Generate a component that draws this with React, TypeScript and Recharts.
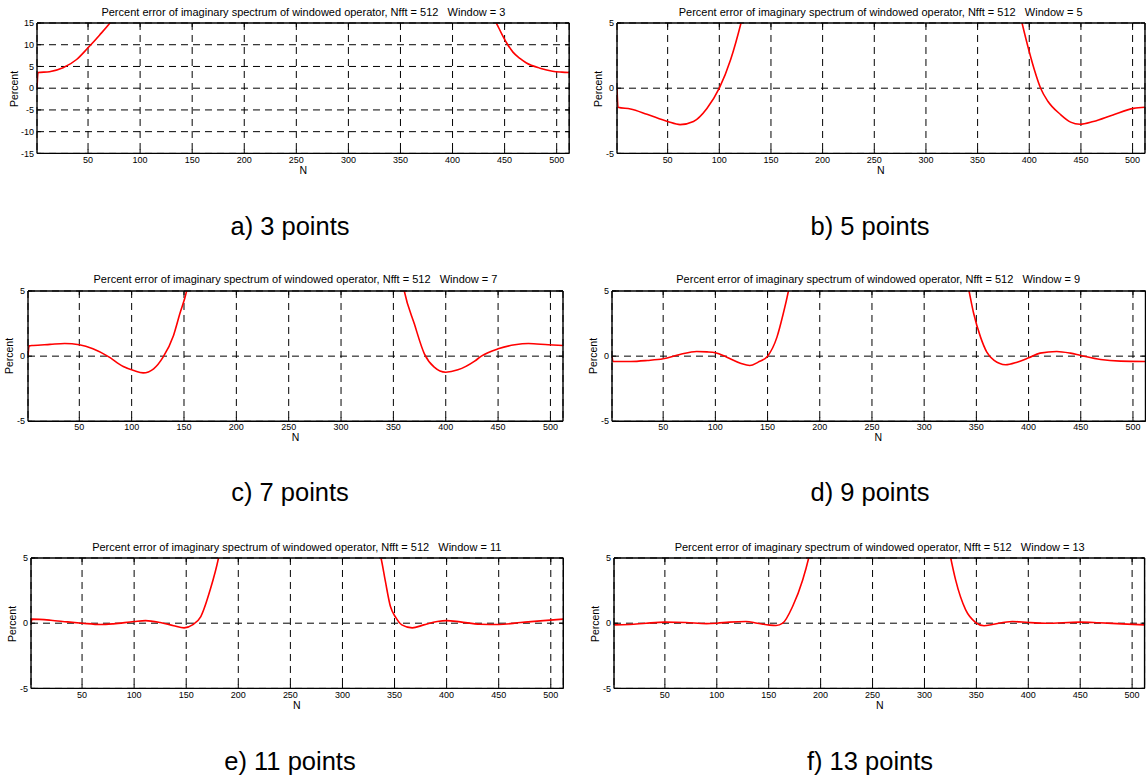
import React from 'react';
import { LineChart, Line, XAxis, YAxis, CartesianGrid } from 'recharts';

const FONT = '"Liberation Sans", Arial, Helvetica, sans-serif';

const xTicks = [50, 100, 150, 200, 250, 300, 350, 400, 450, 500];
const yTicksWide = [-15, -10, -5, 0, 5, 10, 15];
const yTicksNarrow = [-5, 0, 5];

// Window = 3
const w3LeftN = [1, 2, 13, 26, 39, 50, 61, 71, 76];
const w3LeftV = [0, 3.6, 3.8, 4.7, 6.6, 9.3, 12.2, 15, 16.6];
const w3RightN = [437, 442, 447, 452, 458, 465, 471, 484, 496, 505, 512];
const w3RightV = [16.8, 15, 12.6, 10.4, 8.3, 6.8, 5.8, 4.6, 3.9, 3.7, 3.6];

// Window = 5
const w5LeftN = [1, 2, 14, 30, 50, 62, 75, 88, 100, 111, 121, 125];
const w5LeftV = [0, -1.46, -1.6, -2.0, -2.55, -2.79, -2.55, -1.55, 0, 2.2, 5.0, 6.3];
const w5RightN = [390, 393, 400, 405, 411, 418, 430, 440, 449, 462, 481, 501, 512];
const w5RightV = [6.0, 5.0, 2.8, 1.4, 0, -1.0, -2.0, -2.6, -2.77, -2.56, -2.05, -1.55, -1.46];

// Window = 7
const w7LeftN = [1, 2, 6, 22, 36, 50, 63, 77, 92, 102, 111, 121, 130, 140, 146, 152.5, 155];
const w7LeftV = [0, 0.79, 0.82, 0.9, 0.97, 0.87, 0.56, 0, -0.79, -1.1, -1.28, -0.97, -0.08, 1.59, 3.25, 5.0, 6.0];
const w7RightN = [358, 360.4, 370, 379.6, 389, 400, 411.6, 427.6, 434, 450, 466, 479, 498, 512];
const w7RightV = [6.0, 5.0, 2.48, 0.18, -0.84, -1.23, -1.05, -0.38, 0, 0.56, 0.87, 0.97, 0.87, 0.82];

// Window = 9
const w9LeftN = [1, 2, 19, 35, 50, 66, 82, 92, 100, 111, 124, 133, 141, 150, 159, 165, 170, 172];
const w9LeftV = [0, -0.41, -0.41, -0.33, -0.2, 0.13, 0.36, 0.33, 0.26, -0.08, -0.54, -0.72, -0.46, 0, 1.46, 3.25, 5.0, 5.8];
const w9RightN = [341, 343, 347.5, 354, 360, 367, 378, 389, 400, 411, 427, 440, 450, 469, 488, 512];
const w9RightV = [5.8, 5.0, 3.25, 1.46, 0.31, -0.33, -0.66, -0.46, -0.13, 0.23, 0.36, 0.23, 0.05, -0.26, -0.38, -0.41];

// Window = 11
const w11LeftN = [1, 2, 20, 36, 50, 68, 80, 100, 111, 125, 138, 148, 156, 164, 173, 181, 183];
const w11LeftV = [0, 0.31, 0.23, 0.1, 0, -0.1, -0.05, 0.13, 0.2, 0.05, -0.2, -0.36, -0.13, 0.51, 2.56, 5.0, 5.8];
const w11RightN = [334, 337, 341, 346, 351, 357, 367, 378, 391, 400, 413, 432, 450, 471, 493, 512];
const w11RightV = [5.8, 5.0, 3.3, 1.3, 0.46, -0.13, -0.36, -0.13, 0.13, 0.2, 0.1, -0.08, -0.1, 0.05, 0.2, 0.31];

// Window = 13
const w13LeftN = [1, 2, 16, 32, 50, 70, 90, 100, 112, 128, 139, 151, 157, 163.5, 173, 182.7, 188.5, 191];
const w13LeftV = [0, -0.13, -0.1, 0, 0.08, 0.05, -0.03, 0, 0.08, 0.13, 0, -0.15, -0.18, 0, 1.28, 3.32, 5.0, 5.9];
const w13RightN = [323, 325.3, 330, 339.7, 349.4, 357.4, 365.4, 384.6, 400, 416.7, 450, 468, 490, 512];
const w13RightV = [5.9, 5.0, 3.32, 1.02, 0.05, -0.2, -0.1, 0.13, 0.05, 0, 0.08, 0.03, -0.05, -0.13];

type Pt = { n: number; v: number | null };

function build(ln: number[], lv: number[], rn: number[], rv: number[]): Pt[] {
  const left = ln.map((n, i) => ({ n, v: lv[i] }));
  const right = rn.map((n, i) => ({ n, v: rv[i] }));
  return [...left, { n: 257, v: null }, ...right];
}

const BottomTick = (props: any) => {
  const { x, y, payload } = props;
  return (
    <g>
      <line x1={x} x2={x} y1={y} y2={y - 4} stroke="#000" strokeWidth={1} />
      <text x={x} y={y + 6} dy="0.35em" textAnchor="middle" fontSize={9} fontFamily={FONT} fill="#000">
        {payload.value}
      </text>
    </g>
  );
};

const TopTick = (props: any) => {
  const { x, y } = props;
  return <line x1={x} x2={x} y1={y} y2={y + 4} stroke="#000" strokeWidth={1} />;
};

const LeftTick = (props: any) => {
  const { x, y, payload } = props;
  return (
    <g>
      <line x1={x} x2={x + 4} y1={y} y2={y} stroke="#000" strokeWidth={1} />
      <text x={x - 3} y={y} dy="0.35em" textAnchor="end" fontSize={9} fontFamily={FONT} fill="#000">
        {payload.value}
      </text>
    </g>
  );
};

const RightTick = (props: any) => {
  const { x, y } = props;
  return <line x1={x} x2={x - 4} y1={y} y2={y} stroke="#000" strokeWidth={1} />;
};

type PanelProps = {
  data: Pt[];
  yTicks: number[];
  yDomain: [number, number];
  title: string;
  caption: string;
  px: number;
  py: number;
  pw: number;
  ph: number;
  capX: number;
  capY: number;
  ylabOff: number;
};

function Panel(p: PanelProps) {
  const L = 36;
  const T = 6;
  const R = 1;
  const B = 16;
  const W = p.pw + L + R;
  const H = p.ph + T + B;
  const axisStyle = { stroke: '#000', strokeWidth: 1.4 };
  return (
    <>
      <div style={{ position: 'absolute', left: p.px - L, top: p.py - T, width: W, height: H }}>
        <LineChart
          width={W}
          height={H}
          data={p.data}
          margin={{ top: T - 1, right: R - 1, bottom: B - 1, left: L - 1 }}
        >
          <CartesianGrid stroke="#000" strokeDasharray="7 5" strokeWidth={1} />
          <XAxis
            dataKey="n"
            type="number"
            domain={[1, 512]}
            ticks={xTicks}
            allowDataOverflow
            interval={0}
            height={1}
            tickSize={0}
            tickMargin={0}
            tickLine={false}
            tick={BottomTick}
            axisLine={axisStyle}
          />
          <XAxis
            xAxisId="top"
            orientation="top"
            dataKey="n"
            type="number"
            domain={[1, 512]}
            ticks={xTicks}
            allowDataOverflow
            interval={0}
            height={1}
            tickSize={0}
            tickMargin={0}
            tickLine={false}
            tick={TopTick}
            axisLine={axisStyle}
          />
          <YAxis
            type="number"
            domain={p.yDomain}
            ticks={p.yTicks}
            allowDataOverflow
            interval={0}
            width={1}
            tickSize={0}
            tickMargin={0}
            tickLine={false}
            tick={LeftTick}
            axisLine={axisStyle}
          />
          <YAxis
            yAxisId="right"
            orientation="right"
            type="number"
            domain={p.yDomain}
            ticks={p.yTicks}
            allowDataOverflow
            interval={0}
            width={1}
            tickSize={0}
            tickMargin={0}
            tickLine={false}
            tick={RightTick}
            axisLine={axisStyle}
          />
          <Line
            type="monotone"
            dataKey="v"
            stroke="#ff0000"
            strokeWidth={1.6}
            dot={false}
            activeDot={false}
            connectNulls={false}
            isAnimationActive={false}
          />
        </LineChart>
      </div>
      <div
        style={{
          position: 'absolute',
          left: p.px + p.pw / 2,
          top: p.py - 11.5,
          transform: 'translate(-50%, -50%)',
          whiteSpace: 'pre',
          fontFamily: FONT,
          fontSize: 11,
          color: '#000',
          lineHeight: 1,
        }}
      >
        {p.title}
      </div>
      <div
        style={{
          position: 'absolute',
          left: p.px + p.pw / 2,
          top: p.py + p.ph + 16,
          transform: 'translate(-50%, -50%)',
          fontFamily: FONT,
          fontSize: 10.5,
          color: '#000',
          lineHeight: 1,
        }}
      >
        N
      </div>
      <div
        style={{
          position: 'absolute',
          left: p.px - p.ylabOff,
          top: p.py + p.ph / 2,
          transform: 'translate(-50%, -50%) rotate(-90deg)',
          fontFamily: FONT,
          fontSize: 10.5,
          color: '#000',
          lineHeight: 1,
          whiteSpace: 'nowrap',
        }}
      >
        Percent
      </div>
      <div
        style={{
          position: 'absolute',
          left: p.capX,
          top: p.capY,
          transform: 'translate(-50%, -50%)',
          fontFamily: FONT,
          fontSize: 25.5,
          color: '#000',
          lineHeight: 1,
          whiteSpace: 'nowrap',
        }}
      >
        {p.caption}
      </div>
    </>
  );
}

const titleBase = 'Percent error of imaginary spectrum of windowed operator, Nfft = 512   Window = ';

export default function App() {
  return (
    <div
      style={{
        position: 'absolute',
        left: 0,
        top: 0,
        width: 1146,
        height: 778,
        overflow: 'hidden',
        background: '#fff',
      }}
    >
      <Panel
        data={build(w3LeftN, w3LeftV, w3RightN, w3RightV)}
        yTicks={yTicksWide}
        yDomain={[-15, 15]}
        title={titleBase + '3'}
        caption="a) 3 points"
        px={37.3}
        py={23.3}
        pw={532.2}
        ph={130.4}
        capX={290}
        capY={227}
        ylabOff={23}
      />
      <Panel
        data={build(w5LeftN, w5LeftV, w5RightN, w5RightV)}
        yTicks={yTicksNarrow}
        yDomain={[-5, 5]}
        title={titleBase + '5'}
        caption="b) 5 points"
        px={616.7}
        py={23.3}
        pw={528}
        ph={130.4}
        capX={870}
        capY={227}
        ylabOff={19}
      />
      <Panel
        data={build(w7LeftN, w7LeftV, w7RightN, w7RightV)}
        yTicks={yTicksNarrow}
        yDomain={[-5, 5]}
        title={titleBase + '7'}
        caption="c) 7 points"
        px={28}
        py={290.7}
        pw={535}
        ph={130.3}
        capX={290}
        capY={493}
        ylabOff={19}
      />
      <Panel
        data={build(w9LeftN, w9LeftV, w9RightN, w9RightV)}
        yTicks={yTicksNarrow}
        yDomain={[-5, 5]}
        title={titleBase + '9'}
        caption="d) 9 points"
        px={611.5}
        py={290.7}
        pw={533.5}
        ph={130.3}
        capX={870}
        capY={493}
        ylabOff={19}
      />
      <Panel
        data={build(w11LeftN, w11LeftV, w11RightN, w11RightV)}
        yTicks={yTicksNarrow}
        yDomain={[-5, 5]}
        title={titleBase + '11'}
        caption="e) 11 points"
        px={30.6}
        py={558.3}
        pw={532.3}
        ph={130.4}
        capX={290}
        capY={762}
        ylabOff={19}
      />
      <Panel
        data={build(w13LeftN, w13LeftV, w13RightN, w13RightV)}
        yTicks={yTicksNarrow}
        yDomain={[-5, 5]}
        title={titleBase + '13'}
        caption="f) 13 points"
        px={614.4}
        py={558.3}
        pw={530.6}
        ph={130.4}
        capX={870}
        capY={762}
        ylabOff={19}
      />
    </div>
  );
}
